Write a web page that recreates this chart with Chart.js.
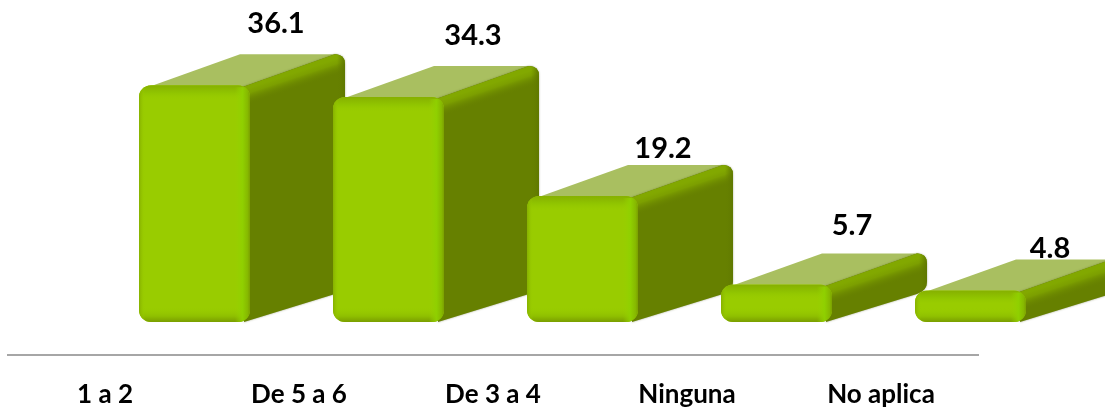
<!DOCTYPE html>
<html lang="es">
<head>
<meta charset="utf-8">
<title>Grafico</title>
<script src="https://cdn.jsdelivr.net/npm/chart.js@4"></script>
<style>
  html, body { margin: 0; padding: 0; background: #fff; }
  canvas { display: block; }
</style>
</head>
<body>
<canvas id="myChart1" width="1105" height="408"></canvas>
<script>
const categorias = ['1 a 2', 'De 5 a 6', 'De 3 a 4', 'Ninguna', 'No aplica'];
const valores = [36.1, 34.3, 19.2, 5.7, 4.8];

// Profundidad del efecto 3D
const fondoX = 89.5;
const fondoY = -33;
const prof = { x: 95, y: -31 };
const radio = 12;
const bisel = 15;

// Las etiquetas estan movidas a mano en el original
const ajusteX = [171, 174, 170, 165, 169];
const ajusteY = [-31, -30, -16, -28, -11];

function caminoLateral(ctx, x, arriba, abajo) {
    // cara derecha con las esquinas del fondo redondeadas
    const r = 10;
    ctx.beginPath();
    ctx.moveTo(x - 8, arriba + 2);
    ctx.lineTo(x + prof.x - r, arriba + prof.y);
    ctx.quadraticCurveTo(x + prof.x, arriba + prof.y, x + prof.x, arriba + prof.y + r);
    ctx.lineTo(x + prof.x, abajo + prof.y - r);
    ctx.quadraticCurveTo(x + prof.x, abajo + prof.y, x + prof.x - r, abajo + prof.y + 3);
    ctx.lineTo(x - 6, abajo);
    ctx.closePath();
}

function dibujarCara(ctx, el) {
    const izq = el.x - el.width / 2;
    const der = el.x + el.width / 2;
    const arriba = el.y;
    const abajo = el.base;

    // cara superior
    ctx.fillStyle = '#a9bf60';
    ctx.beginPath();
    ctx.moveTo(izq + 6, arriba + 3);
    ctx.lineTo(izq + prof.x + 6, arriba + prof.y);
    ctx.lineTo(der + prof.x - 6, arriba + prof.y);
    ctx.lineTo(der - 4, arriba + 3);
    ctx.closePath();
    ctx.fill();

    // cara lateral
    ctx.save();
    caminoLateral(ctx, der, arriba, abajo);
    ctx.fillStyle = '#668000';
    ctx.shadowColor = 'rgba(60,70,0,0.5)';
    ctx.shadowBlur = 2;
    ctx.fill();
    ctx.shadowColor = 'transparent';
    ctx.clip();
    // brillo del borde superior, perpendicular al borde inclinado
    const gr = ctx.createLinearGradient(der + 40, arriba - 11, der + 45, arriba + 4);
    gr.addColorStop(0, '#82a800');
    gr.addColorStop(0.3, '#7c9f00');
    gr.addColorStop(1, 'rgba(102,128,0,0)');
    ctx.fillStyle = gr;
    ctx.fillRect(der - 10, arriba + prof.y - 2, prof.x + 12, abajo - arriba + 40);
    // brillo del borde derecho del fondo
    const gd = ctx.createLinearGradient(der + prof.x - 8, 0, der + prof.x, 0);
    gd.addColorStop(0, 'rgba(102,128,0,0)');
    gd.addColorStop(1, '#5f7800');
    ctx.fillStyle = gd;
    ctx.fillRect(der + prof.x - 8, arriba + prof.y, 8, abajo - arriba);
    ctx.restore();
}

function dibujarBisel(ctx, el) {
    const izq = el.x - el.width / 2;
    const der = el.x + el.width / 2;
    const arriba = el.y;
    const abajo = el.base;
    const b = Math.min(bisel, (abajo - arriba) / 2.2);

    ctx.save();
    ctx.beginPath();
    ctx.roundRect(izq, arriba, el.width, abajo - arriba, radio);
    ctx.clip();

    // borde de arriba
    let g = ctx.createLinearGradient(0, arriba, 0, arriba + b);
    g.addColorStop(0, '#86b000');
    g.addColorStop(0.5, '#90c400');
    g.addColorStop(1, 'rgba(153,204,0,0)');
    ctx.fillStyle = g;
    ctx.fillRect(izq, arriba, el.width, b);

    // borde de abajo
    g = ctx.createLinearGradient(0, abajo - b, 0, abajo);
    g.addColorStop(0, 'rgba(153,204,0,0)');
    g.addColorStop(0.6, '#8fc000');
    g.addColorStop(1, '#7a9e00');
    ctx.fillStyle = g;
    ctx.fillRect(izq, abajo - b, el.width, b);

    // borde derecho
    g = ctx.createLinearGradient(der - bisel, 0, der, 0);
    g.addColorStop(0, 'rgba(150,210,0,0)');
    g.addColorStop(0.5, 'rgba(143,208,0,0.95)');
    g.addColorStop(0.85, '#86b800');
    g.addColorStop(1, '#7a9e00');
    ctx.fillStyle = g;
    ctx.fillRect(der - bisel, arriba + 2, bisel, abajo - arriba - 2);

    // borde izquierdo
    g = ctx.createLinearGradient(izq, 0, izq + 6, 0);
    g.addColorStop(0, '#86b000');
    g.addColorStop(1, 'rgba(153,204,0,0)');
    ctx.fillStyle = g;
    ctx.fillRect(izq, arriba, 6, abajo - arriba);
    ctx.restore();
}

const barras3d = {
    id: 'barras3d',
    beforeDatasetDraw(chart, args) {
        const ctx = chart.ctx;
        args.meta.data.forEach((el) => {
            ctx.save();
            ctx.translate(fondoX, fondoY);
            dibujarCara(ctx, el);
            el.draw(ctx);
            dibujarBisel(ctx, el);
            ctx.restore();
        });
        // se dibujan aqui, una por una, para que cada barra tape a la anterior
        return false;
    },
    afterDatasetsDraw(chart) {
        const ctx = chart.ctx;
        const meta = chart.getDatasetMeta(0);
        ctx.save();
        ctx.fillStyle = '#000';
        ctx.font = 'bold 29px Lato';
        ctx.textAlign = 'center';
        ctx.textBaseline = 'middle';
        meta.data.forEach((el, i) => {
            const yFondo = el.y + fondoY + prof.y;
            ctx.fillText(valores[i].toFixed(1), el.x + ajusteX[i], yFondo + ajusteY[i]);
        });
        ctx.restore();
    }
};

const chart1 = new Chart(document.getElementById('myChart1'), {
    type: 'bar',
    data: {
        labels: categorias,
        datasets: [{
            label: 'Porcentaje',
            data: valores,
            backgroundColor: '#99cc00',
            borderRadius: radio,
            borderSkipped: false,
            inflateAmount: 0,
            barPercentage: 0.572,
            categoryPercentage: 1
        }]
    },
    plugins: [barras3d],
    options: {
        responsive: false,
        animation: false,
        layout: { padding: { left: 8, right: 127, top: 27, bottom: 0 } },
        plugins: { legend: { display: false }, tooltip: { enabled: false } },
        scales: {
            x: {
                grid: { display: false },
                border: { color: '#a6a6a6', width: 2 },
                // alto fijo del eje para dejar la linea donde va
                afterFit(scale) { scale.height = 53; },
                ticks: {
                    color: '#000',
                    padding: 16,
                    maxRotation: 0,
                    font: { family: 'Lato', weight: 'bold', size: 26 }
                }
            },
            y: { display: false, min: 0, max: 50 }
        }
    }
});
</script>
</body>
</html>
